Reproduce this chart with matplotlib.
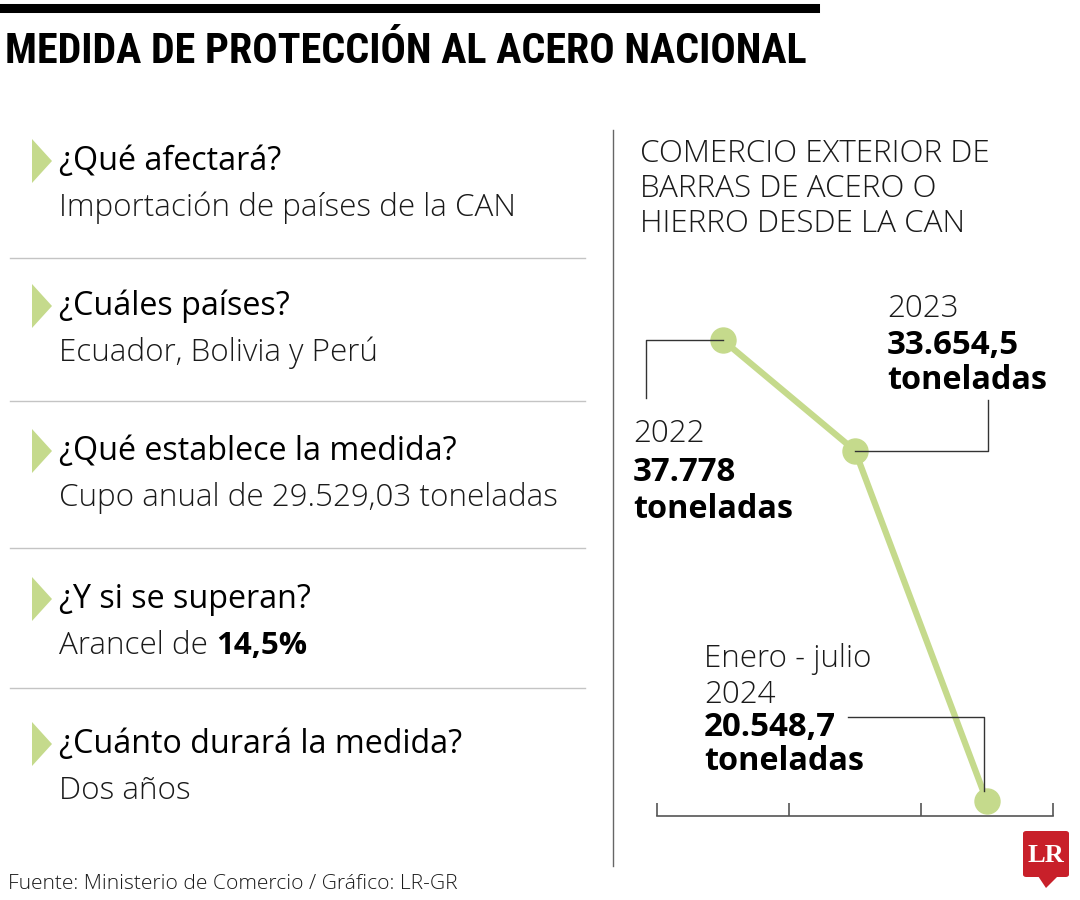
import matplotlib
matplotlib.use("Agg")
import matplotlib.pyplot as plt
import matplotlib.patches as patches
from matplotlib.lines import Line2D

# --- data ---
questions = ["¿Qué afectará?", "¿Cuáles países?", "¿Qué establece la medida?",
             "¿Y si se superan?", "¿Cuánto durará la medida?"]
answers = ["Importación de países de la CAN", "Ecuador, Bolivia y Perú",
           "Cupo anual de 29.529,03 toneladas", "Arancel de ", "Dos años"]
answer_bold = ["", "", "", "14,5%", ""]

periods = [["2022"], ["2023"], ["Enero - julio", "2024"]]
values = [37778, 33654.5, 20548.7]
value_labels = ["37.778", "33.654,5", "20.548,7"]

chart_title = ["COMERCIO EXTERIOR DE", "BARRAS DE ACERO O", "HIERRO DESDE LA CAN"]

GREEN = "#c5da8c"
W, H = 1080, 900
BODY = ["Open Sans", "DejaVu Sans"]
INK = "#1a1a1a"


def fx(x):
    return x / W


def fy(y):
    return 1 - y / H


fig = plt.figure(figsize=(W / 100, H / 100), dpi=100)
fig.patch.set_facecolor("white")

# top bar + title
fig.add_artist(Line2D([fx(2), fx(815)], [fy(7.5), fy(7.5)], color="black", lw=6.5))
title = fig.text(fx(5), fy(63), "MEDIDA DE PROTECCIÓN AL ACERO NACIONAL", ha="left",
                 va="baseline", fontsize=29, fontweight="bold", fontstretch="condensed",
                 family=["Roboto Condensed", "Noto Sans", "DejaVu Sans"])
fig.canvas.draw()
tw = title.get_window_extent().width
title.set_fontsize(29 * 803 / tw)  # fit the title to the width of the top bar

# --- left panel ---
head_base = [170, 315, 460, 608, 753]
sep_y = [258, 401, 548, 688]
for i, (q, a) in enumerate(zip(questions, answers)):
    yb = head_base[i]
    tri = patches.Polygon([(fx(32), fy(yb - 31)), (fx(52), fy(yb - 9)), (fx(32), fy(yb + 13))],
                          closed=True, transform=fig.transFigure, color=GREEN, lw=0)
    fig.add_artist(tri)
    fig.text(fx(59), fy(yb), q, ha="left", va="baseline", fontsize=23.2, family=BODY,
             color="black")
    t = fig.text(fx(59), fy(yb + 46), a, ha="left", va="baseline", fontsize=22.6,
                 family=BODY, fontweight="light", color=INK)
    if answer_bold[i]:
        fig.canvas.draw()
        bb = t.get_window_extent()
        fig.text(bb.x1 / W, fy(yb + 46), answer_bold[i], ha="left", va="baseline",
                 fontsize=22.6, family=BODY, fontweight="bold")
for ys in sep_y:
    fig.add_artist(Line2D([fx(10), fx(585)], [fy(ys), fy(ys)], color="#c4c4c4", lw=1))

# vertical divider
fig.add_artist(Line2D([fx(613), fx(613)], [fy(130), fy(866)], color="#666666", lw=1))

# right title
for k, line in enumerate(chart_title):
    fig.text(fx(640), fy(162 + 35 * k), line, ha="left", va="baseline", fontsize=22.6,
             family=BODY, fontweight="light", color=INK)

# --- chart ---
y0, upx = 20000, 37.37
ax = fig.add_axes([fx(657), fy(816), (1053 - 657) / W, (816 - 130) / H])
ax.set_xlim(0, 3)
ax.set_ylim(y0, y0 + (816 - 130) * upx)
xs = [0.5, 1.5, 2.5]
ax.plot(xs, values, color=GREEN, lw=4.5, marker="o", markersize=18, clip_on=False, zorder=3)
for s in ["top", "left", "right"]:
    ax.spines[s].set_visible(False)
ax.spines["bottom"].set_color("#555555")
ax.spines["bottom"].set_linewidth(1.2)
ax.set_xticks([0, 1, 2, 3])
ax.set_xticklabels([])
ax.set_yticks([])
ax.tick_params(axis="x", direction="in", length=9.5, width=1.2, color="#555555")
ax.patch.set_alpha(0)

fig.canvas.draw()
pts = [ax.transData.transform((x, v)) for x, v in zip(xs, values)]
pts = [(p[0], H - p[1]) for p in pts]  # pixel coords, y from top

LEAD = "#333333"


def leader(xy_list):
    fig.add_artist(Line2D([fx(p[0]) for p in xy_list], [fy(p[1]) for p in xy_list],
                          color=LEAD, lw=1, zorder=1))


leader([(pts[0][0], pts[0][1]), (646, pts[0][1]), (646, 398)])
leader([(pts[1][0], pts[1][1]), (988, pts[1][1]), (988, 400)])
leader([(848, 717), (pts[2][0] - 3, 717), (pts[2][0] - 3, pts[2][1] - 10)])

# labels: (x, baselines of period lines, value line, toneladas line)
label_pos = [(633, [442], 481, 518), (887, [317], 354, 389), (704, [667, 703], 736, 770)]
for (lx, pys, vy, ty), per, val in zip(label_pos, periods, value_labels):
    for py, line in zip(pys, per):
        fig.text(fx(lx), fy(py), line, ha="left", va="baseline", fontsize=22.6, family=BODY,
                 fontweight="light", color=INK)
    fig.text(fx(lx), fy(vy), val, ha="left", va="baseline", fontsize=23.8, family=BODY,
             fontweight="bold")
    fig.text(fx(lx), fy(ty), "toneladas", ha="left", va="baseline", fontsize=23.3,
             family=BODY, fontweight="bold")

# footer
fig.text(fx(8), fy(889), "Fuente: Ministerio de Comercio / Gráfico: LR-GR", ha="left",
         va="baseline", fontsize=15.1, family=BODY, fontweight="light", color=INK)

# LR logo
fig.add_artist(patches.FancyBboxPatch((fx(1023), fy(877)), fx(46), 46 / H,
                                      boxstyle="round,pad=0,rounding_size=0.003",
                                      transform=fig.transFigure, color="#c8202a", lw=0))
fig.add_artist(patches.Polygon([(fx(1038), fy(876)), (fx(1058), fy(876)), (fx(1046), fy(888))],
                               closed=True, transform=fig.transFigure, color="#c8202a", lw=0))
fig.text(fx(1046), fy(855), "LR", ha="center", va="center", fontsize=19, color="white",
         fontweight="bold", family=["Liberation Serif", "DejaVu Serif"])

fig.savefig("out.png", dpi=100)
